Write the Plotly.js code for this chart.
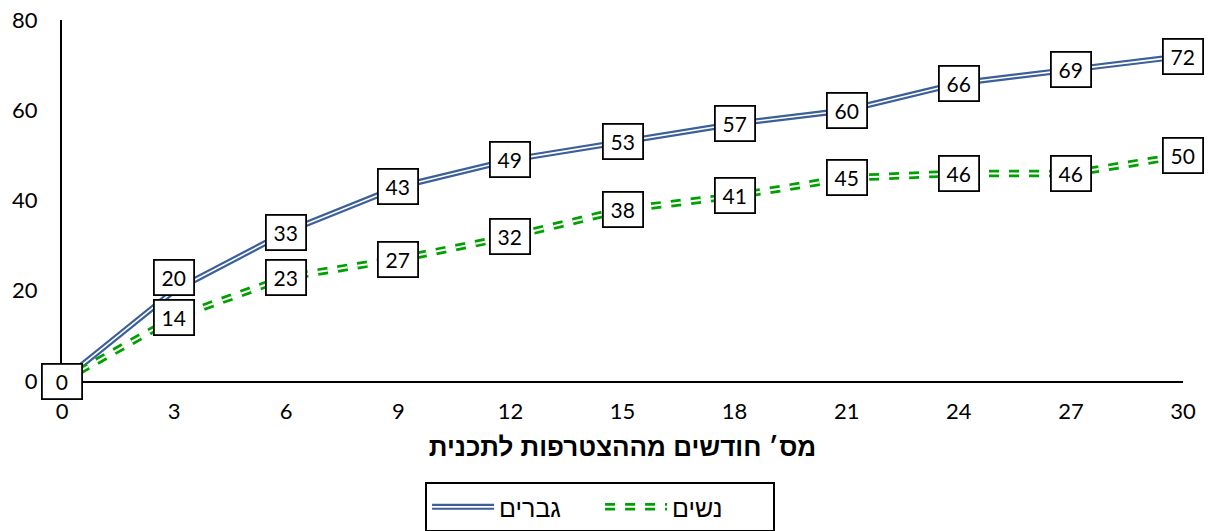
<!DOCTYPE html>
<html><head><meta charset="utf-8">
<script src="https://cdn.plot.ly/plotly-3.0.1.min.js"></script>
<style>html,body{margin:0;padding:0;background:#fff}#chart{width:1209px;height:531px}</style>
</head><body><div id="chart"></div>
<script>
const months = [0, 3, 6, 9, 12, 15, 18, 21, 24, 27, 30];
const men = [0, 20, 33, 43, 49, 53, 57, 60, 66, 69, 72];
const women = [0, 14, 23, 27, 32, 38, 41, 45, 46, 46, 50];
const menName = 'גברים';
const womenName = 'נשים';
const xTitle = 'מס׳ חודשים מההצטרפות לתכנית';
const yTicks = [0, 20, 40, 60, 80];

const blue = '#3b5f99';
const green = '#00a000';
const font = 'Lato, "Liberation Sans", "DejaVu Sans", sans-serif';
const hebFont = '"Liberation Sans", "DejaVu Sans", sans-serif';

const traces = [
  {x: months, y: men, name: menName, mode: 'lines', line: {color: blue, width: 6}},
  {x: months, y: men, mode: 'lines', showlegend: false, hoverinfo: 'skip', line: {color: '#ffffff', width: 1.6}},
  {x: months, y: women, name: womenName, mode: 'lines', line: {color: green, width: 7.5, dash: '10px,10px'}},
  {x: months, y: women, mode: 'lines', showlegend: false, hoverinfo: 'skip', line: {color: '#ffffff', width: 2, dash: '10px,10px'}}
];

const annotations = [];
function addLabels(xs, ys, skipFirst, shifts) {
  xs.forEach((x, i) => {
    if (skipFirst && i === 0) return;
    annotations.push({
      x: x, y: ys[i], xref: 'x', yref: 'y', text: String(ys[i]), showarrow: false,
      font: {family: font, size: 21, color: '#000'},
      bgcolor: '#fff', bordercolor: '#000', borderwidth: 1.8, borderpad: 4,
      width: 30, height: 25, yshift: (shifts && shifts[i]) || 0
    });
  });
}
addLabels(months, women, false, null);
addLabels(months, men, true, {1: 13});

const layout = {
  width: 1209, height: 531,
  margin: {l: 62, r: 26, t: 20, b: 150, autoexpand: false},
  paper_bgcolor: '#fff', plot_bgcolor: '#fff',
  font: {family: font, size: 22, color: '#000'},
  showlegend: true,
  xaxis: {
    range: [0, 30], tickvals: months, ticktext: months.map(String),
    showgrid: false, zeroline: false, showline: true, linecolor: '#000', linewidth: 2,
    ticks: '', ticklabelstandoff: 10, tickfont: {family: font, size: 22},
    title: {text: '<b>' + xTitle + '</b>', font: {family: hebFont, size: 26}, standoff: 14},
    automargin: false
  },
  yaxis: {
    range: [0, 80], tickvals: yTicks, ticktext: yTicks.map(String),
    showgrid: false, zeroline: false, showline: true, linecolor: '#000', linewidth: 2,
    ticks: '', ticklabelstandoff: 18, tickfont: {family: font, size: 22},
    automargin: false
  },
  legend: {
    orientation: 'h', x: 0.48, xanchor: 'center', y: -0.28, yanchor: 'top',
    bordercolor: '#000', borderwidth: 2, bgcolor: '#fff',
    font: {family: hebFont, size: 25},
    itemwidth: 62, entrywidth: 96
  },
  annotations: annotations
};

Plotly.newPlot('chart', traces, layout, {displayModeBar: false, staticPlot: true}).then(gd => {
  // give the legend symbols the same white inner stroke as the plotted lines
  const widths = {0: 1.6, 1: 2};
  gd.querySelectorAll('.legend .traces').forEach((tr, i) => {
    tr.querySelectorAll('.legendlines path').forEach(p => {
      const c = p.cloneNode(true);
      c.style.stroke = '#ffffff';
      c.style.strokeWidth = (widths[i] || 1.6) + 'px';
      p.parentNode.appendChild(c);
    });
  });
});
</script></body></html>
